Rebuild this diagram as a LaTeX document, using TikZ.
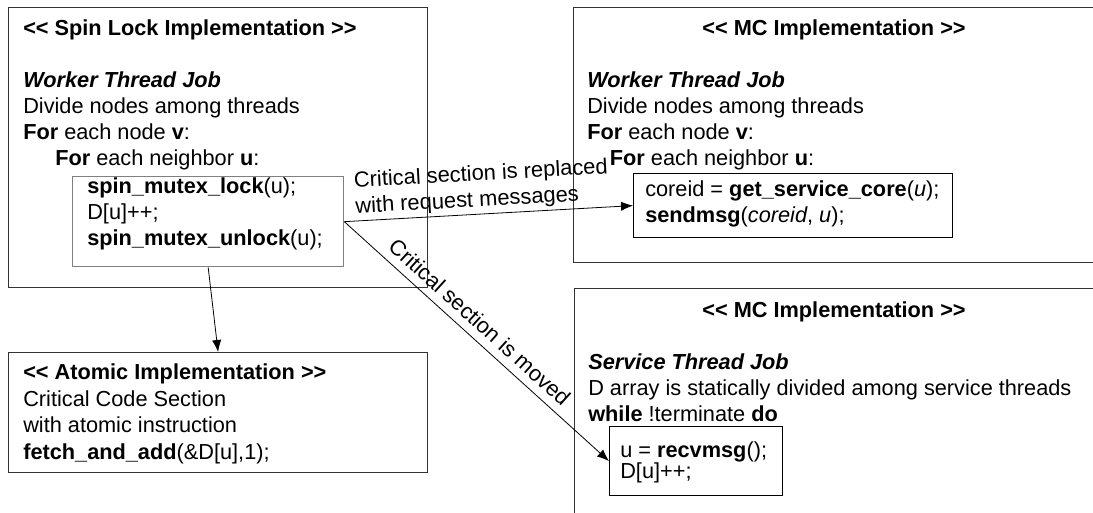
\documentclass[tikz,border=0pt]{standalone}
\usepackage{fontspec}
\setmainfont{Liberation Sans}
\usepackage{tikz}
\usetikzlibrary{arrows.meta}

\tikzset{
  frame/.style={shape=rectangle, draw=black!80, line width=0.9pt, inner sep=0pt, anchor=north west},
  codebox/.style={frame, draw=black},
  txt/.style={anchor=north west, inner sep=0pt, align=left, font=\fontsize{16.3}{19.5}\selectfont},
  lbl/.style={inner sep=0pt, align=left, font=\fontsize{16.4}{19.5}\selectfont},
  flow/.style={-{Latex[length=9pt,width=7pt]}, line width=0.6pt},
}
\newcommand{\opn}{<{}<}
\newcommand{\cls}{>{}>}

\begin{document}
\begin{tikzpicture}[x=0.75pt, y=-0.75pt]
      \useasboundingbox (0,0) rectangle (1093,512);
      \clip (0,0) rectangle (1093,512);

      % frames
      \node[frame, minimum width=314.25pt, minimum height=210pt] (spin) at (8,7) {};
      \node[frame, minimum width=314.25pt, minimum height=90pt] (atomic) at (8,352) {};
      \node[frame, minimum width=405pt, minimum height=191.25pt] (mcwork) at (573,7) {};
      \node[frame, minimum width=405pt, minimum height=180pt] (mcserv) at (574,288) {};

      % inner code boxes
      \node[frame, draw=black!50, line width=1pt, minimum width=203.25pt, minimum height=67.5pt] (crit) at (72,176) {};
      \node[codebox, minimum width=239.25pt, minimum height=48pt] (send) at (633,173) {};
      \node[codebox, minimum width=129.75pt, minimum height=51.75pt] (recv) at (609,426) {};

      % spin lock text
      \node[txt] (spintitle) at (23,19.5) {\textbf{\opn{} Spin Lock Implementation \cls}};
      \node[txt] (spinbody) at (23,71.5) {\textbf{\textit{Worker Thread Job}}\\
        Divide nodes among threads\\
        \textbf{For} each node \textbf{v}:\\
        \hspace*{24pt}\textbf{For} each neighbor \textbf{u}:};
      \node[txt] (crittext) at (87,177.5) {\textbf{spin\_mutex\_lock}(u);\\
        D[u]++;\\
        \textbf{spin\_mutex\_unlock}(u);};

      % atomic text
      \node[txt, font=\fontsize{16.3}{20}\selectfont] (atomictext) at (23,363.5) {\textbf{\opn{} Atomic Implementation \cls}\\
        Critical Code Section\\
        with atomic instruction\\
        \textbf{fetch\_and\_add}(\&D[u],1);};

      % MC worker text
      \node[txt, anchor=north] (mcworktitle) at (834,19.5) {\textbf{\opn{} MC Implementation \cls}};
      \node[txt] (mcworkbody) at (587,71.5) {\textbf{\textit{Worker Thread Job}}\\
        Divide nodes among threads\\
        \textbf{For} each node \textbf{v}:\\
        \hspace*{17pt}\textbf{For} each neighbor \textbf{u}:};
      \node[txt] (sendtext) at (645,180.5) {coreid = \textbf{get\_service\_core}(\textit{u});\\
        \textbf{sendmsg}(\textit{coreid}, \textit{u});};

      % MC service text
      \node[txt, anchor=north] (mcservtitle) at (834,301.5) {\textbf{\opn{} MC Implementation \cls}};
      \node[txt] (mcservbody) at (588,353.5) {\textbf{\textit{Service Thread Job}}\\
        D array is statically divided among service threads\\
        \textbf{while} !terminate \textbf{do}};
      \node[txt, font=\fontsize{16.3}{16}\selectfont] (recvtext) at (620,441.5) {u = \textbf{recvmsg}();\\
        D[u]++;};

      % connectors
      \draw[flow] (crit.east) -- (send.west)
        node[lbl, sloped, anchor=south west, pos=0.04, yshift=2pt] (replaced) {Critical section is replaced\\with request messages};
      \draw[flow] (crit.east) -- (recv.west)
        node[lbl, sloped, above=6pt, pos=0.47] (moved) {Critical section is moved};
      \draw[flow] (crit.south) -- (atomic.north);
    \end{tikzpicture}
\end{document}
